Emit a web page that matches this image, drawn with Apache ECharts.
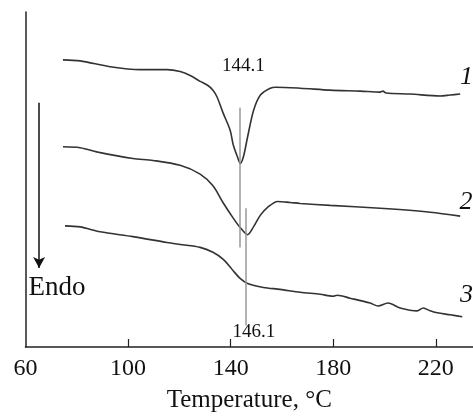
<!DOCTYPE html>
<html>
<head>
<meta charset="utf-8">
<script src="https://cdn.jsdelivr.net/npm/echarts@6/dist/echarts.min.js"></script>
<style>html,body{margin:0;padding:0;background:#fff;}#c{width:473px;height:418px;}</style>
</head>
<body>
<div id="c"></div>
<script>
// Temperature (°C) and heat flow (arbitrary units, offset per curve)
const curve1T = [74.6,81.3,93.0,104.7,115.2,120.3,124.2,128.1,131.0,133.1,134.7,137.0,139.8,141.0,142.6,143.8,145.0,146.6,148.9,151.6,155.5,157.5,167.1,178.8,190.5,198.3,199.4,200.6,210.0,221.7,225.6,229.5];
const curve1Y = [294,293,287,284,284,282,278,272,268,263,256,240,222,207,195,188,195,215,242,258,265,266,265,263,262,261,262,260,259,257,258,259];
const curve2T = [74.6,81.3,89.1,101.9,109.7,120.3,128.1,133.1,137.0,141.0,143.8,146.6,148.9,151.6,154.4,158.3,163.2,167.1,178.8,198.3,217.8,229.5];
const curve2Y = [205,204,199,193,191,186,177,165,148,132,122,115,123,135,143,149,148,147,145,142,138,134];
const curve3T = [75.4,81.3,89.1,101.9,115.2,120.3,128.1,133.1,137.0,139.8,141.0,143.8,146.6,152.8,159.3,167.1,174.9,179.9,181.5,186.6,194.4,197.5,201.4,206.1,212.7,215.1,217.8,220.5,225.6,230.3];
const curve3Y = [124,123,118,113,107,105,102,97,90,82,78,70,65,61,59,56,54,52,53,50,45,42,45,40,37,40,37,35,33,31];
const xTickValues = [100,140,180,220];
const xLabelValues = [60,100,140,180,220];
const peakLabels = ['144.1','146.1'];
const peakLineX = [143.5, 146.0];
const curveNames = ['1','2','3'];

const FONT = 'Liberation Serif';
const lineColor = '#333';
const textColor = '#111';

function pairs(t, y){ return t.map((v,i)=>[v,y[i]]); }

const option = {
  animation: false,
  grid: {left: 25.5, right: 0, top: 12, bottom: 63, containLabel: false},
  xAxis: {
    type: 'value', min: 60, max: 234.5, interval: 40,
    name: 'Temperature, °C', nameLocation: 'middle', nameGap: 41,
    nameTextStyle: {fontFamily: FONT, fontSize: 25, color: textColor},
    axisLine: {show: true, lineStyle: {color: '#222', width: 1.5}},
    axisTick: {show: true, inside: true, length: 8, customValues: xTickValues, lineStyle: {color: '#222', width: 1.2}},
    axisLabel: {customValues: xLabelValues, fontFamily: FONT, fontSize: 24, color: textColor, margin: 10},
    splitLine: {show: false}
  },
  yAxis: {
    type: 'value', min: 0, max: 343,
    axisLine: {show: true, lineStyle: {color: '#222', width: 1.5}},
    axisTick: {show: false}, axisLabel: {show: false}, splitLine: {show: false}
  },
  series: [
    {type: 'line', data: pairs(curve1T, curve1Y), showSymbol: false, smooth: 0.3,
     lineStyle: {color: lineColor, width: 1.6},
     markLine: {silent: true, symbol: ['none','none'], label: {show: false},
       lineStyle: {color: '#999', width: 1.5, type: 'solid'},
       data: [[{coord: [peakLineX[0], 245]}, {coord: [peakLineX[0], 102]}]]}},
    {type: 'line', data: pairs(curve2T, curve2Y), showSymbol: false, smooth: 0.3,
     lineStyle: {color: lineColor, width: 1.6},
     markLine: {silent: true, symbol: ['none','none'], label: {show: false},
       lineStyle: {color: '#999', width: 1.5, type: 'solid'},
       data: [[{coord: [peakLineX[1], 142]}, {coord: [peakLineX[1], 22]}]]}},
    {type: 'line', data: pairs(curve3T, curve3Y), showSymbol: false, smooth: 0.3,
     lineStyle: {color: lineColor, width: 1.6},
     markLine: {silent: true, symbol: ['none','arrow'], symbolSize: [9, 11], label: {show: false},
       lineStyle: {color: '#111', width: 1.5, type: 'solid'},
       data: [[{coord: [65.3, 250]}, {coord: [65.3, 81]}]]}},
    {type: 'scatter', symbolSize: 1, itemStyle: {color: 'transparent', opacity: 1}, silent: true,
     label: {show: true, position: 'inside', fontFamily: FONT, color: textColor, opacity: 1, formatter: p => p.data.t},
     data: [
       {value: [145.0, 288], t: peakLabels[0], label: {fontSize: 19}},
       {value: [149.1, 15], t: peakLabels[1], label: {fontSize: 19}},
       {value: [232.0, 276], t: curveNames[0], label: {fontSize: 26, fontStyle: 'italic'}},
       {value: [231.8, 148], t: curveNames[1], label: {fontSize: 26, fontStyle: 'italic'}},
       {value: [232.0, 53], t: curveNames[2], label: {fontSize: 26, fontStyle: 'italic'}},
       {value: [72.3, 60], t: 'Endo', label: {fontSize: 27}}
     ]}
  ]
};
echarts.init(document.getElementById('c'), null, {renderer: 'canvas'}).setOption(option);
</script>
</body>
</html>
